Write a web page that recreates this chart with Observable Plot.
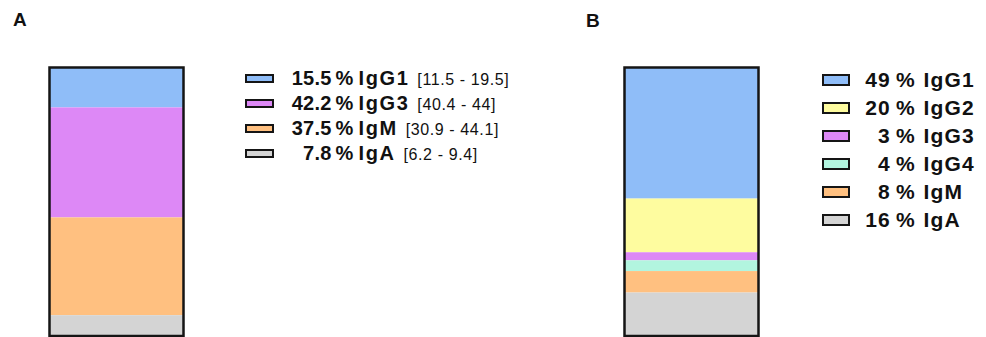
<!DOCTYPE html>
<html>
<head>
<meta charset="utf-8">
<script src="https://cdn.jsdelivr.net/npm/d3@7"></script>
<script src="https://cdn.jsdelivr.net/npm/@observablehq/plot@0.6"></script>
<style>
  html, body { margin: 0; padding: 0; background: #fff; }
  body { font-family: "Liberation Sans", Arial, sans-serif; color: #111; }
  #wrap { position: relative; width: 986px; height: 337px; overflow: hidden; }
  .abs { position: absolute; }
  .panel-label { font-weight: bold; font-size: 19px; line-height: 1; }
  .row { position: absolute; left: 0; display: block; }
  .sw { position: absolute; box-sizing: border-box; border: 2px solid #151515; }
  .num { position: absolute; text-align: right; font-weight: bold; white-space: nowrap; }
  .pct { position: absolute; font-weight: bold; white-space: nowrap; }
  .nm { position: absolute; font-weight: bold; white-space: nowrap; }
  .ci { font-weight: normal; font-size: 16px; letter-spacing: 0.6px; margin-left: 8px; }
</style>
</head>
<body>
<div id="wrap"></div>
<script>
// ---------- data ----------
const namesA = ["IgG1", "IgG3", "IgM", "IgA"];
const valuesA = [15.5, 42.2, 37.5, 7.8];
const rangesA = ["[11.5 - 19.5]", "[40.4 - 44]", "[30.9 - 44.1]", "[6.2 - 9.4]"];
const colorsA = ["#8fbdf8", "#dd88f6", "#ffc080", "#d4d4d4"];

const namesB = ["IgG1", "IgG2", "IgG3", "IgG4", "IgM", "IgA"];
const valuesB = [49, 20, 3, 4, 8, 16];
const colorsB = ["#8fbdf8", "#fefc9f", "#dd88f6", "#b2f5df", "#ffc080", "#d4d4d4"];

const panelLabels = ["A", "B"];

const wrap = document.getElementById("wrap");

function barPlot(names, values, colors, key, opts) {
  const data = names.map((n, i) => ({panel: key, name: n, value: values[i]}));
  return Plot.plot({
    width: opts.width,
    height: 337,
    marginLeft: opts.ml,
    marginRight: opts.mr,
    marginTop: 67,
    marginBottom: 1.5,
    x: {type: "band", domain: [key], padding: 0, axis: null},
    y: {axis: null, domain: [0, 1]},
    color: {domain: names, range: colors},
    marks: [
      Plot.barY(data, {
        x: "panel",
        y: "value",
        fill: "name",
        offset: "normalize",
        reverse: true,
        insetLeft: 0, insetRight: 0, insetTop: 0, insetBottom: 0
      }),
      Plot.frame({stroke: "#151515", strokeWidth: 2.5})
    ],
    style: {background: "transparent", overflow: "visible"}
  });
}

// Panel A bar
const svgA = barPlot(namesA, valuesA, colorsA, "A", {width: 240, ml: 49, mr: 57});
svgA.style.position = "absolute"; svgA.style.left = "0px"; svgA.style.top = "0px";
wrap.appendChild(svgA);

// Panel B bar
const svgB = barPlot(namesB, valuesB, colorsB, "B", {width: 240, ml: 50, mr: 56});
svgB.style.position = "absolute"; svgB.style.left = "574px"; svgB.style.top = "0px";
wrap.appendChild(svgB);

// Panel labels
[[panelLabels[0], 13, 9.5], [panelLabels[1], 586, 10.5]].forEach(([t, x, y]) => {
  const d = document.createElement("div");
  d.className = "abs panel-label";
  d.style.left = x + "px"; d.style.top = y + "px";
  d.textContent = t;
  wrap.appendChild(d);
});

// Legends
function legend(cfg) {
  const box = document.createElement("div");
  box.className = "abs";
  box.style.left = "0px";
  box.style.top = cfg.top + "px";
  box.style.width = "986px";
  cfg.names.forEach((n, i) => {
    const row = document.createElement("div");
    row.className = "row";
    row.style.top = (i * cfg.step) + "px";
    row.style.height = cfg.step + "px";
    row.style.width = "986px";
    row.style.lineHeight = cfg.step + "px";
    row.style.fontSize = cfg.fs + "px";

    const sw = document.createElement("div");
    sw.className = "sw";
    sw.style.left = cfg.swX + "px";
    sw.style.width = cfg.swW + "px";
    sw.style.height = cfg.swH + "px";
    sw.style.top = ((cfg.step - cfg.swH) / 2) + "px";
    sw.style.background = cfg.colors[i];
    row.appendChild(sw);

    const num = document.createElement("span");
    num.className = "num";
    num.style.left = (cfg.numR - 80) + "px";
    num.style.width = "80px";
    num.style.letterSpacing = cfg.numLS + "px";
    num.textContent = String(cfg.values[i]);
    row.appendChild(num);

    const pct = document.createElement("span");
    pct.className = "pct";
    pct.style.left = cfg.pctX + "px";
    pct.textContent = "%";
    row.appendChild(pct);

    const nm = document.createElement("span");
    nm.className = "nm";
    nm.style.left = cfg.nameX + "px";
    const nt = document.createElement("span");
    nt.style.letterSpacing = cfg.nameLS + "px";
    nt.textContent = n;
    nm.appendChild(nt);
    if (cfg.ranges) {
      const ci = document.createElement("span");
      ci.className = "ci";
      ci.textContent = cfg.ranges[i];
      nm.appendChild(ci);
    }
    row.appendChild(nm);
    box.appendChild(row);
  });
  wrap.appendChild(box);
}

legend({
  names: namesA, values: valuesA, ranges: rangesA, colors: colorsA,
  top: 66, step: 25, fs: 20,
  swX: 245, swW: 29, swH: 9,
  numR: 331.5, numLS: 0.2, pctX: 335.5, nameX: 358.5, nameLS: 1.6
});

legend({
  names: namesB, values: valuesB, ranges: null, colors: colorsB,
  top: 66, step: 28, fs: 21,
  swX: 821.5, swW: 28, swH: 11.5,
  numR: 891, numLS: 1.2, pctX: 896, nameX: 923.5, nameLS: 1.2
});
</script>
</body>
</html>
